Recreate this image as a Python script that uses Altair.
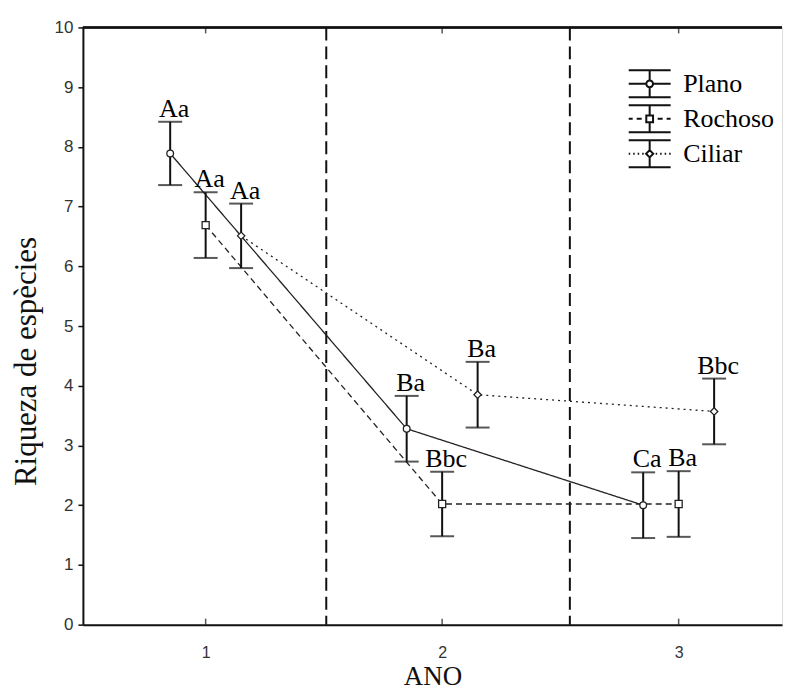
import altair as alt
import pandas as pd

# ---------------- data ----------------
years = [1, 2, 3]
series = ["Plano", "Rochoso", "Ciliar"]

plano_mean = [7.89, 3.28, 2.00]
plano_err = [0.53, 0.55, 0.55]
rochoso_mean = [6.69, 2.02, 2.02]
rochoso_err = [0.55, 0.54, 0.55]
ciliar_mean = [6.51, 3.85, 3.57]
ciliar_err = [0.54, 0.55, 0.55]

plano_labels = ["Aa", "Ba", "Ca"]
rochoso_labels = ["Aa", "Bbc", "Ba"]
ciliar_labels = ["Aa", "Ba", "Bbc"]

separators = [1.51, 2.54]
x_ticks = [1, 2, 3]
y_ticks = list(range(0, 11))

# ---------------- table ----------------
dodge = {"Plano": -0.15, "Rochoso": 0.0, "Ciliar": 0.15}
means = {"Plano": plano_mean, "Rochoso": rochoso_mean, "Ciliar": ciliar_mean}
errs = {"Plano": plano_err, "Rochoso": rochoso_err, "Ciliar": ciliar_err}
labs = {"Plano": plano_labels, "Rochoso": rochoso_labels, "Ciliar": ciliar_labels}

rows = []
for s in series:
    for i, yr in enumerate(years):
        m, e = means[s][i], errs[s][i]
        rows.append({"series": s, "year": yr, "x": yr + dodge[s], "mean": m,
                     "lo": m - e, "hi": m + e, "label": labs[s][i]})
df = pd.DataFrame(rows)
sep_df = pd.DataFrame({"sep": separators})
tick_df = pd.DataFrame({"year": x_ticks})

INK = "#111111"
SERIF = "Liberation Serif"
SANS = "Liberation Sans"

xscale = alt.Scale(domain=[0.481, 3.437], nice=False, zero=False)
yscale = alt.Scale(domain=[0, 10], nice=False, zero=False)

xaxis = alt.Axis(values=x_ticks, format="d", grid=False, ticks=False,
                 domainColor=INK, domainWidth=2, labelFont=SANS, labelFontSize=16,
                 labelColor="#333333", labelPadding=20, title="ANO", titleFont=SERIF,
                 titleFontSize=27, titleFontWeight="normal", titleColor=INK, titlePadding=3)
yaxis = alt.Axis(values=y_ticks, format="d", grid=False, tickSize=5, tickWidth=1.5,
                 tickColor=INK, domainColor=INK, domainWidth=2, labelFont=SANS,
                 labelFontSize=17, labelColor="#333333", labelPadding=5,
                 title="Riqueza de espècies", titleFont=SERIF, titleFontSize=31,
                 titleFontWeight="normal", titleColor=INK, titlePadding=12, titleY=334)

X = alt.X("x:Q", scale=xscale, axis=xaxis)
base = alt.Chart(df)

sep = alt.Chart(sep_df).mark_rule(color=INK, strokeWidth=2, strokeDash=[13, 6]).encode(
    x=alt.X("sep:Q", scale=xscale, axis=xaxis)
)

top_border = alt.Chart(tick_df).mark_rule(color=INK, strokeWidth=2).encode(
    y=alt.datum(10, scale=yscale, axis=yaxis)
)

bottom_ticks = alt.Chart(tick_df).mark_tick(orient="vertical", size=6, thickness=1.5,
                                            color=INK, yOffset=-3).encode(
    x=alt.X("year:Q", scale=xscale, axis=xaxis), y=alt.datum(0)
)
top_ticks = alt.Chart(tick_df).mark_tick(orient="vertical", size=6, thickness=1.5,
                                         color=INK, yOffset=3).encode(
    x=alt.X("year:Q", scale=xscale, axis=xaxis), y=alt.datum(10)
)

lines = base.mark_line(color="#222222", strokeWidth=1.3).encode(
    x=X,
    y=alt.Y("mean:Q", scale=yscale, axis=yaxis),
    strokeDash=alt.StrokeDash("series:N", scale=alt.Scale(domain=series,
                              range=[[1, 0], [6, 4], [2, 4]]), legend=None),
    detail="series:N",
    order="year:Q",
)

bars = base.mark_rule(color=INK, strokeWidth=2).encode(
    x=X, y=alt.Y("lo:Q", scale=yscale, axis=yaxis), y2="hi:Q"
)
cap_lo = base.mark_tick(orient="horizontal", size=24, thickness=2, color=INK).encode(
    x=X, y=alt.Y("lo:Q", scale=yscale, axis=yaxis)
)
cap_hi = base.mark_tick(orient="horizontal", size=24, thickness=2, color=INK).encode(
    x=X, y=alt.Y("hi:Q", scale=yscale, axis=yaxis)
)

points = base.mark_point(filled=True, fill="white", stroke="#222222", strokeWidth=1.3,
                         opacity=1).encode(
    x=X,
    y=alt.Y("mean:Q", scale=yscale, axis=yaxis),
    shape=alt.Shape("series:N", scale=alt.Scale(domain=series,
                    range=["circle", "square", "diamond"]), legend=None),
    size=alt.Size("series:N", scale=alt.Scale(domain=series, range=[45, 55, 40]),
                  legend=None),
)

texts = base.mark_text(font=SERIF, fontSize=26, baseline="alphabetic", dy=-5, dx=4,
                       color="black").encode(
    x=X, y=alt.Y("hi:Q", scale=yscale, axis=yaxis), text="label:N"
)

# legend glyphs (error-bar symbol with marker and series line style), in pixels
UNIT = 15.5          # pixels per symbol unit for symbolSize = (2*UNIT)**2
HW, HH, M = 21, 13.5, 3.4


def p(v):
    return f"{v / UNIT:.3f}"


caps = (f"M-{p(HW)},-{p(HH)}H{p(HW)}M-{p(HW)},{p(HH)}H{p(HW)}"
        f"M0,-{p(HH)}V-{p(M)}M0,{p(M)}V{p(HH)}")


def hsegs(pairs):
    return "".join(f"M{p(a)},0H{p(b)}" for a, b in pairs)


g_plano = (caps + hsegs([(-HW, -M), (M, HW)]) +
           f"M{p(M)},0A{p(M)},{p(M)},0,1,1,-{p(M)},0A{p(M)},{p(M)},0,1,1,{p(M)},0")
g_roch = (caps + hsegs([(-21, -17), (-13, -8), (8, 13), (17, 21)]) +
          f"M-{p(M)},-{p(M)}H{p(M)}V{p(M)}H-{p(M)}Z")
g_cil = (caps + hsegs([(-21, -19.5), (-16.5, -15), (-12, -10.5), (-7.5, -6),
                       (6, 7.5), (10.5, 12), (15, 16.5), (19.5, 21)]) +
         f"M0,-{p(3.6)}L{p(3.6)},0L0,{p(3.6)}L-{p(3.6)},0Z")

legend_layer = base.transform_filter(alt.datum.series == "none").mark_point(
    filled=False, color=INK, opacity=1).encode(
    x=X,
    y=alt.Y("mean:Q", scale=yscale, axis=yaxis),
    shape=alt.Shape("series:N", scale=alt.Scale(domain=series,
                    range=[g_plano, g_roch, g_cil]),
                    legend=alt.Legend(orient="none", legendX=551, legendY=40, title=None,
                                      labelFont=SERIF, labelFontSize=26, labelColor="black",
                                      symbolSize=(2 * UNIT) ** 2, symbolStrokeWidth=2,
                                      symbolStrokeColor=INK, symbolFillColor="white",
                                      symbolOpacity=1,
                                      labelOffset=17, rowPadding=-4, padding=0)),
)

chart = alt.layer(
    sep, top_border, bottom_ticks, top_ticks, lines, bars, cap_lo, cap_hi, points,
    texts, legend_layer
).resolve_scale(
    shape="independent", strokeDash="independent", size="independent"
).properties(
    width=700, height=598,
    padding={"left": 2, "top": 10, "right": 0, "bottom": 0},
).configure_view(stroke=None).configure(background="white")

chart.save("out.html", embed_options={"renderer": "svg", "actions": False})
